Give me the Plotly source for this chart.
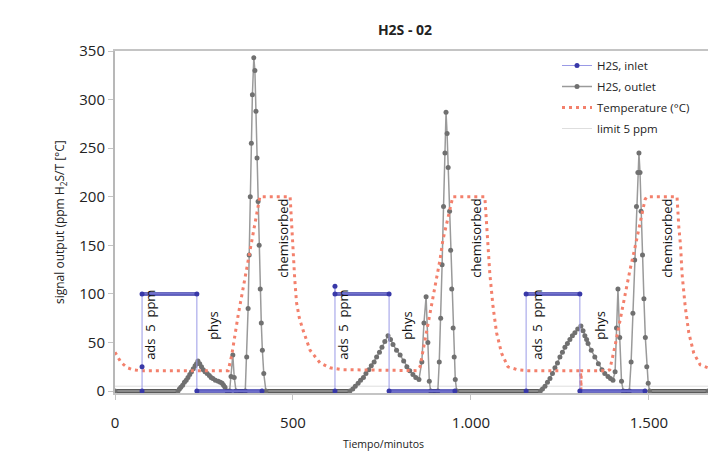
import plotly.graph_objects as go

# ---------------- data (minutes, ppm / °C) ----------------
inlet_t = [76, 76, 76, 230, 230, 413, None,
           618, 618, 618, 770, 770, 955, None,
           1155, 1155, 1306, 1306, 1489]
inlet_v = [0, 25, 100, 100, 0, 0, None,
           0, 108, 100, 100, 0, 0, None,
           0, 100, 100, 0, 0]

outlet_t = [0, 177, 181, 185, 190, 195, 200, 205, 210, 215, 220, 225, 229, 233,
            238, 243, 248, 253, 259, 265, 270, 275, 282, 290, 296, 301, 305, 309, 315,
            322, 326, 331, 335, 340,
            366, 370, 374, 377, 380, 383, 386, 390, 393, 396, 399, 402, 405, 408, 411, 414, 418, 424,
            660, 668, 675, 683, 690, 698, 705, 713, 720, 728, 735, 743, 750, 758, 767,
            774, 781, 791, 801, 811, 820, 828, 837, 845, 854,
            862, 868, 874, 879, 883, 887,
            907, 911, 915, 919, 923, 927, 930, 933, 936, 940, 943, 946, 950, 953, 956, 960,
            1195, 1201, 1208, 1215, 1222, 1229, 1236, 1243, 1250, 1257, 1264, 1271, 1278, 1285, 1292,
            1300, 1309, 1315, 1320, 1325, 1329, 1338, 1348, 1358, 1368, 1376, 1385, 1392, 1399,
            1405, 1409, 1413, 1418, 1423, 1428,
            1445, 1450, 1455, 1460, 1465, 1469, 1472, 1475, 1478, 1482, 1486, 1490, 1494, 1498, 1502, 1666]
outlet_v = [0, 0, 2, 4, 6, 9, 11, 14, 17, 20, 23, 26, 28, 31,
            28, 25, 22, 20, 18, 16, 14, 13, 11, 10, 9, 8, 6, 4, 0,
            0, 15, 37, 14, 0,
            0, 35, 85, 140, 200, 255, 305, 343, 330, 288, 240, 195, 150, 105, 70, 42, 18, 0,
            0, 2, 5, 8, 11, 14, 18, 22, 26, 30, 35, 40, 45, 51, 57,
            53, 48, 42, 37, 31, 25, 21, 17, 14, 12,
            30, 70, 97, 50, 10, 0,
            0, 30, 75, 130, 190, 245, 287, 265, 230, 185, 145, 105, 65, 35, 12, 0,
            0, 2, 5, 9, 13, 18, 24, 29, 35, 40, 45, 49, 53, 57, 60,
            64, 67, 62, 57, 53, 49, 42, 35, 28, 22, 18, 15, 13, 11,
            20, 65, 105, 55, 10, 0,
            0, 30, 80, 135, 190, 225, 245, 225, 185, 140, 95, 55, 25, 8, 0, 0]

temp_t = [0, 8, 16, 25, 35, 50, 70,
          318, 328, 346, 360, 374, 388, 399, 407,
          492, 496, 500, 505, 510, 518, 528, 548, 576, 604, 640,
          848, 857, 871, 885, 899, 913, 921, 935, 949,
          1039, 1044, 1049, 1053, 1062, 1072, 1086, 1104, 1130, 1160,
          1308, 1309, 1310,
          1385, 1390, 1404, 1419, 1433, 1447, 1461, 1475, 1489, 1494,
          1579, 1584, 1589, 1593, 1602, 1612, 1626, 1644, 1666]
temp_v = [40, 35, 30, 27, 24, 22, 21,
          21, 37, 78, 106, 135, 165, 186, 200,
          200, 170, 140, 115, 91, 75, 63, 42, 29, 24, 22,
          21, 25, 52, 80, 107, 135, 155, 179, 200,
          200, 169, 149, 121, 87, 60, 39, 25, 22, 21,
          21, 1, 21,
          21, 22, 45, 73, 101, 125, 148, 173, 197, 200,
          200, 169, 149, 121, 87, 60, 39, 27, 24]

limit_t = [0, 1666]
limit_v = [5, 5]

x_tickvals = [0, 500, 1000, 1500]
x_ticktext = ["0", "500", "1.000", "1.500"]
y_tickvals = [0, 50, 100, 150, 200, 250, 300, 350]

ann_ads_x = [98, 640, 1185]
ann_phys_x = [275, 820, 1362]
ann_chem_x = [470, 1012, 1549]


def flat_segments(t, v, only_zero=False):
    xs, ys = [], []
    for i in range(len(t) - 1):
        if t[i] is None or t[i + 1] is None:
            continue
        if v[i] == v[i + 1] and (not only_zero or v[i] == 0):
            xs += [t[i], t[i + 1], None]
            ys += [v[i], v[i + 1], None]
    return xs, ys


FONT = "Open Sans"
fig = go.Figure()

fig.add_trace(go.Scatter(x=limit_t, y=limit_v, mode="lines", name="limit 5 ppm",
                         legendgroup="d", legendrank=4,
                         line=dict(color="#dedede", width=1)))

bx, by = flat_segments(outlet_t, outlet_v, only_zero=True)
fig.add_trace(go.Scatter(x=bx, y=by, mode="lines", showlegend=False, hoverinfo="skip",
                         line=dict(color="#5a5a5a", width=4)))
fig.add_trace(go.Scatter(x=outlet_t, y=outlet_v, mode="lines+markers", name="H2S, outlet",
                         legendgroup="b", legendrank=2,
                         line=dict(color="#9a9a9a", width=1.5),
                         marker=dict(color="#707070", size=5)))

fig.add_trace(go.Scatter(x=temp_t, y=temp_v, mode="lines", name="Temperature (°C)",
                         legendgroup="c", legendrank=3,
                         line=dict(color="#f3806c", width=3, dash="3px,4px")))

ix, iy = flat_segments(inlet_t, inlet_v)
fig.add_trace(go.Scatter(x=ix, y=iy, mode="lines", showlegend=False, hoverinfo="skip",
                         line=dict(color="#3838a8", width=3.5)))
fig.add_trace(go.Scatter(x=inlet_t, y=inlet_v, mode="lines+markers", name="H2S, inlet",
                         legendgroup="a", legendrank=1,
                         line=dict(color="#9a9ae6", width=1),
                         marker=dict(color="#3838a8", size=5)))

annotations = []
for x in ann_ads_x:
    annotations.append(dict(x=x, y=68, text="ads  5  ppm", textangle=-90, showarrow=False,
                            font=dict(size=13, color="#111", family=FONT)))
for x in ann_phys_x:
    annotations.append(dict(x=x, y=68, text="phys", textangle=-90, showarrow=False,
                            font=dict(size=13, color="#111", family=FONT)))
for x in ann_chem_x:
    annotations.append(dict(x=x, y=157, text="chemisorbed", textangle=-90, showarrow=False,
                            font=dict(size=13, color="#111", family=FONT)))

annotations.append(dict(xref="paper", yref="paper", x=(383 - 115) / 593, y=(393 - 444) / 342,
                        text="Tiempo/minutos", showarrow=False, yanchor="middle",
                        font=dict(size=10.5, color="#222", family=FONT)))
annotations.append(dict(xref="paper", yref="paper", x=(60 - 115) / 593, y=0.5,
                        text="signal output (ppm H<sub>2</sub>S/T [°C]", textangle=-90,
                        showarrow=False, xanchor="center", yanchor="middle",
                        font=dict(size=12, color="#222", family=FONT)))

fig.update_layout(
    width=708, height=452,
    margin=dict(l=115, r=0, t=51, b=59),
    paper_bgcolor="white", plot_bgcolor="white",
    font=dict(family=FONT, color="#222"),
    title=dict(text="<b>H2S - 02</b>", x=405 / 708, xref="container", xanchor="center",
               y=1 - 30 / 452, yref="container", yanchor="middle",
               font=dict(size=14, color="#222", family=FONT)),
    showlegend=True,
    legend=dict(x=(557 - 115) / 593, y=1.0, xanchor="left", yanchor="top",
                bgcolor="rgba(0,0,0,0)", font=dict(size=11.5, color="#222", family=FONT),
                tracegroupgap=2),
    annotations=annotations,
    xaxis=dict(range=[0, 1666], tickvals=x_tickvals, ticktext=x_ticktext,
               showgrid=False, zeroline=False, showline=True, linecolor="#c4c4c4", linewidth=2,
               mirror=True, ticks="outside", ticklen=5, tickcolor="#c4c4c4",
               ticklabelstandoff=10, tickfont=dict(size=15, color="#222", family=FONT)),
    yaxis=dict(range=[-2, 350], tickvals=y_tickvals, showgrid=False, zeroline=False,
               showline=True, linecolor="#b8b8b8", linewidth=2, ticks="outside", ticklen=5,
               tickcolor="#c4c4c4", tickfont=dict(size=15, color="#222", family=FONT)),
)

fig.write_html("out.html", config={"displayModeBar": False},
               post_script="document.body.style.margin='0px';")
